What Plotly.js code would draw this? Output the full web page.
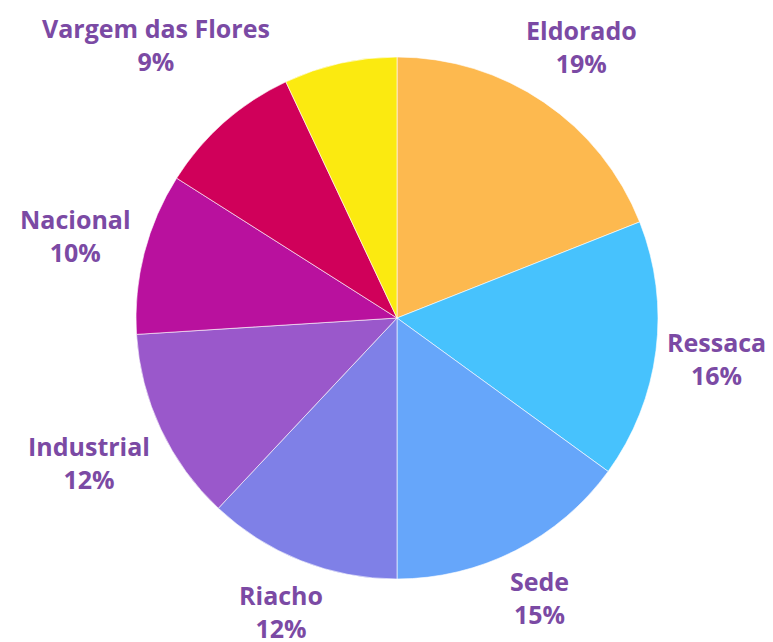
<!DOCTYPE html>
<html>
<head>
<meta charset="utf-8">
<script src="https://cdn.plot.ly/plotly-3.0.1.min.js"></script>
<style>html,body{margin:0;padding:0;background:#fff;}#chart{width:773px;height:642px;}</style>
</head>
<body>
<div id="chart"></div>
<script>
const labels = ["Eldorado", "Ressaca", "Sede", "Riacho", "Industrial", "Nacional", "Vargem das Flores", "Outros"];
const values = [19, 16, 15, 12, 12, 10, 9, 7];
const showLabel = [true, true, true, true, true, true, true, false];
const colors = ["#FDB94F", "#47C2FD", "#66A6FA", "#7F80E7", "#9A58CB", "#B9119E", "#D0005A", "#FBEA10"];

const W = 773, H = 642;
const M = {l: 136, r: 115, t: 56, b: 62};
const plotW = W - M.l - M.r, plotH = H - M.t - M.b;
const R = Math.min(plotW, plotH) / 2;
const O = {x: M.l + plotW / 2, y: M.t + plotH / 2};
const GAP = 8;
const labelFont = {family: "Open Sans", size: 25, color: "#7B4AA4", weight: "bold"};

const total = values.reduce((a, b) => a + b, 0);
const dirs = [];
let cum = 0;
values.forEach(v => {
  const mid = (cum + v / 2) / total * 2 * Math.PI;
  dirs.push({x: Math.sin(mid), y: -Math.cos(mid)});
  cum += v;
});

const labelIdx = [];
const annotations = [];
labels.forEach((lab, i) => {
  if (!showLabel[i]) return;
  labelIdx.push(i);
  annotations.push({
    xref: "paper", yref: "paper", x: 0.5, y: 0.5,
    xanchor: "center", yanchor: "middle", showarrow: false,
    text: lab + "<br>" + Math.round(values[i] / total * 100) + "%",
    font: labelFont
  });
});

function toPaper(px, py) {
  return {x: (px - M.l) / plotW, y: 1 - (py - M.t) / plotH};
}

const gd = document.getElementById("chart");
Plotly.newPlot(gd, [{
  type: "pie",
  labels: labels,
  values: values,
  sort: false,
  direction: "clockwise",
  rotation: 0,
  marker: {colors: colors, line: {color: "rgba(255,255,255,0.6)", width: 1}},
  textinfo: "none",
  hoverinfo: "label+percent",
  showlegend: false
}], {
  width: W, height: H,
  margin: M,
  paper_bgcolor: "#fff",
  showlegend: false,
  font: {family: "Open Sans"},
  annotations: annotations
}, {displayModeBar: false, staticPlot: true}).then(() => {
  const nodes = gd.querySelectorAll(".annotation-text-g");
  const upd = {};
  nodes.forEach((node, k) => {
    const bb = node.getBoundingClientRect();
    const hw = bb.width / 2, hh = bb.height / 2;
    const d = dirs[labelIdx[k]];
    const dist = t => {
      const ex = Math.max(0, Math.abs(t * d.x) - hw);
      const ey = Math.max(0, Math.abs(t * d.y) - hh);
      return Math.sqrt(ex * ex + ey * ey);
    };
    let lo = 0, hi = 1000;
    for (let it = 0; it < 60; it++) {
      const m = (lo + hi) / 2;
      if (dist(m) < R + GAP) lo = m; else hi = m;
    }
    const p = toPaper(O.x + lo * d.x, O.y + lo * d.y);
    upd["annotations[" + k + "].x"] = p.x;
    upd["annotations[" + k + "].y"] = p.y;
  });
  return Plotly.relayout(gd, upd);
});
</script>
</body>
</html>
